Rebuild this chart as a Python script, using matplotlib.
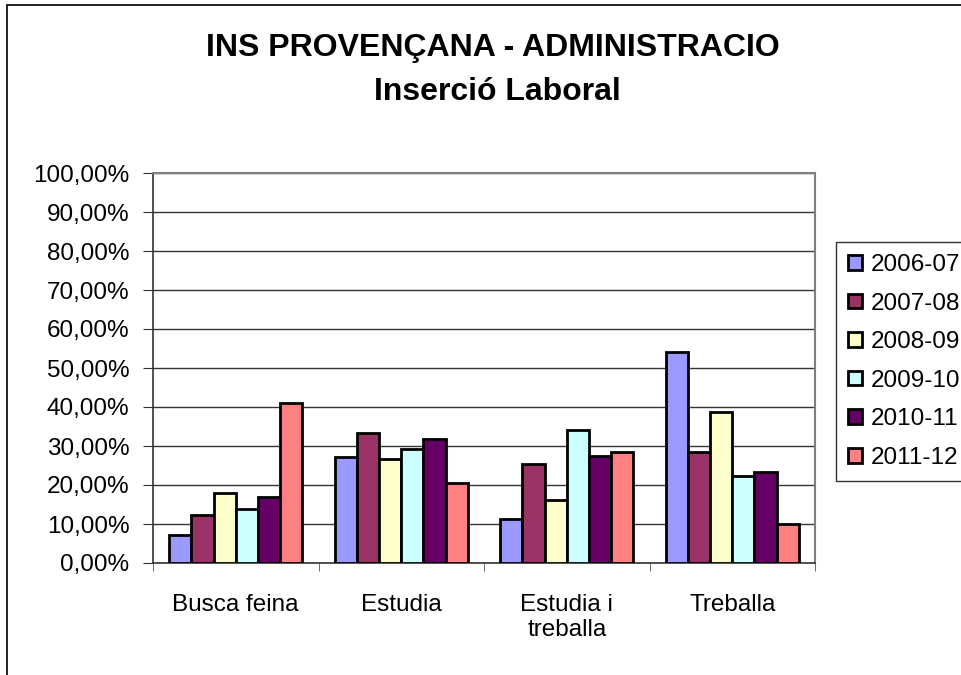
import numpy as np
import matplotlib
matplotlib.use('Agg')
import matplotlib.pyplot as plt
from matplotlib.patches import Rectangle
from matplotlib.ticker import FuncFormatter

plt.rcParams['font.family'] = ['Liberation Sans', 'DejaVu Sans']

CATEGORIES = ['Busca feina', 'Estudia', 'Estudia i\ntreballa', 'Treballa']
YEARS = ['2006-07', '2007-08', '2008-09', '2009-10', '2010-11', '2011-12']
COLORS = ['#9999FF', '#993366', '#FFFFCC', '#CCFFFF', '#660066', '#FF8080']

# percent per year, one list per category
busca_feina = [7.3, 12.3, 17.9, 13.8, 16.9, 40.9]
estudia = [27.1, 33.4, 26.7, 29.2, 31.8, 20.4]
estudia_treballa = [11.2, 25.5, 16.2, 34.2, 27.5, 28.5]
treballa = [54.2, 28.5, 38.8, 22.4, 23.4, 10.1]

values = np.array([busca_feina, estudia, estudia_treballa, treballa])

fig = plt.figure(figsize=(9.62, 6.75), dpi=100)
ax = fig.add_axes([153 / 962, 1 - 563 / 675, (815 - 153) / 962, (563 - 173) / 675])

# outer chart border (cut off on the right and bottom like the screenshot)
fig.patches.append(Rectangle((7 / 962, -0.1), 1.2, 1 - 5 / 675 + 0.1, transform=fig.transFigure,
                             fill=False, edgecolor='black', linewidth=1.2))

x = np.arange(len(CATEGORIES))
n = len(YEARS)
bar_w = 0.134
for i in range(n):
    offs = (i - (n - 1) / 2) * bar_w
    ax.bar(x + offs, values[:, i], width=bar_w, color=COLORS[i], edgecolor='black',
           linewidth=2, label=YEARS[i], zorder=3)

ax.set_xlim(-0.5, len(CATEGORIES) - 0.5)
ax.set_ylim(0, 100)
ax.set_yticks(np.arange(0, 101, 10))
ax.yaxis.set_major_formatter(FuncFormatter(lambda v, p: ('%.2f%%' % v).replace('.', ',')))
ax.grid(axis='y', color='#333333', linewidth=1, zorder=0)

ax.set_xticks(x)
ax.set_xticklabels(CATEGORIES, fontsize=17.5, linespacing=1.2)
ax.set_xticks(np.arange(-0.5, len(CATEGORIES), 1), minor=True)
ax.tick_params(axis='x', which='major', length=0, pad=22)
ax.tick_params(axis='x', which='minor', length=6, direction='out', color='#555555')
ax.tick_params(axis='y', length=7, direction='out', labelsize=17.5, pad=10, color='#333333')

for side in ['top', 'right']:
    ax.spines[side].set_color('#808080')
    ax.spines[side].set_linewidth(1.5)
ax.spines['left'].set_color('#333333')
ax.spines['bottom'].set_color('#333333')
ax.spines['left'].set_linewidth(1.2)
ax.spines['bottom'].set_linewidth(1.2)

fig.text(493 / 962, 1 - 48 / 675, 'INS PROVENÇANA - ADMINISTRACIO', ha='center', va='center',
         fontsize=23, fontweight='bold')
fig.text(497 / 962, 1 - 92 / 675, 'Inserció Laboral', ha='center', va='center',
         fontsize=23, fontweight='bold')

leg = fig.legend(loc='upper left', bbox_to_anchor=(836 / 962, 1 - 242 / 675), fontsize=17.5,
                 frameon=True, fancybox=False, handlelength=0.55, handleheight=0.55,
                 handletextpad=0.4, labelspacing=0.68, borderpad=0.5, borderaxespad=0)
leg.get_frame().set_edgecolor('black')
leg.get_frame().set_linewidth(1)

fig.savefig('out.png', dpi=100)
